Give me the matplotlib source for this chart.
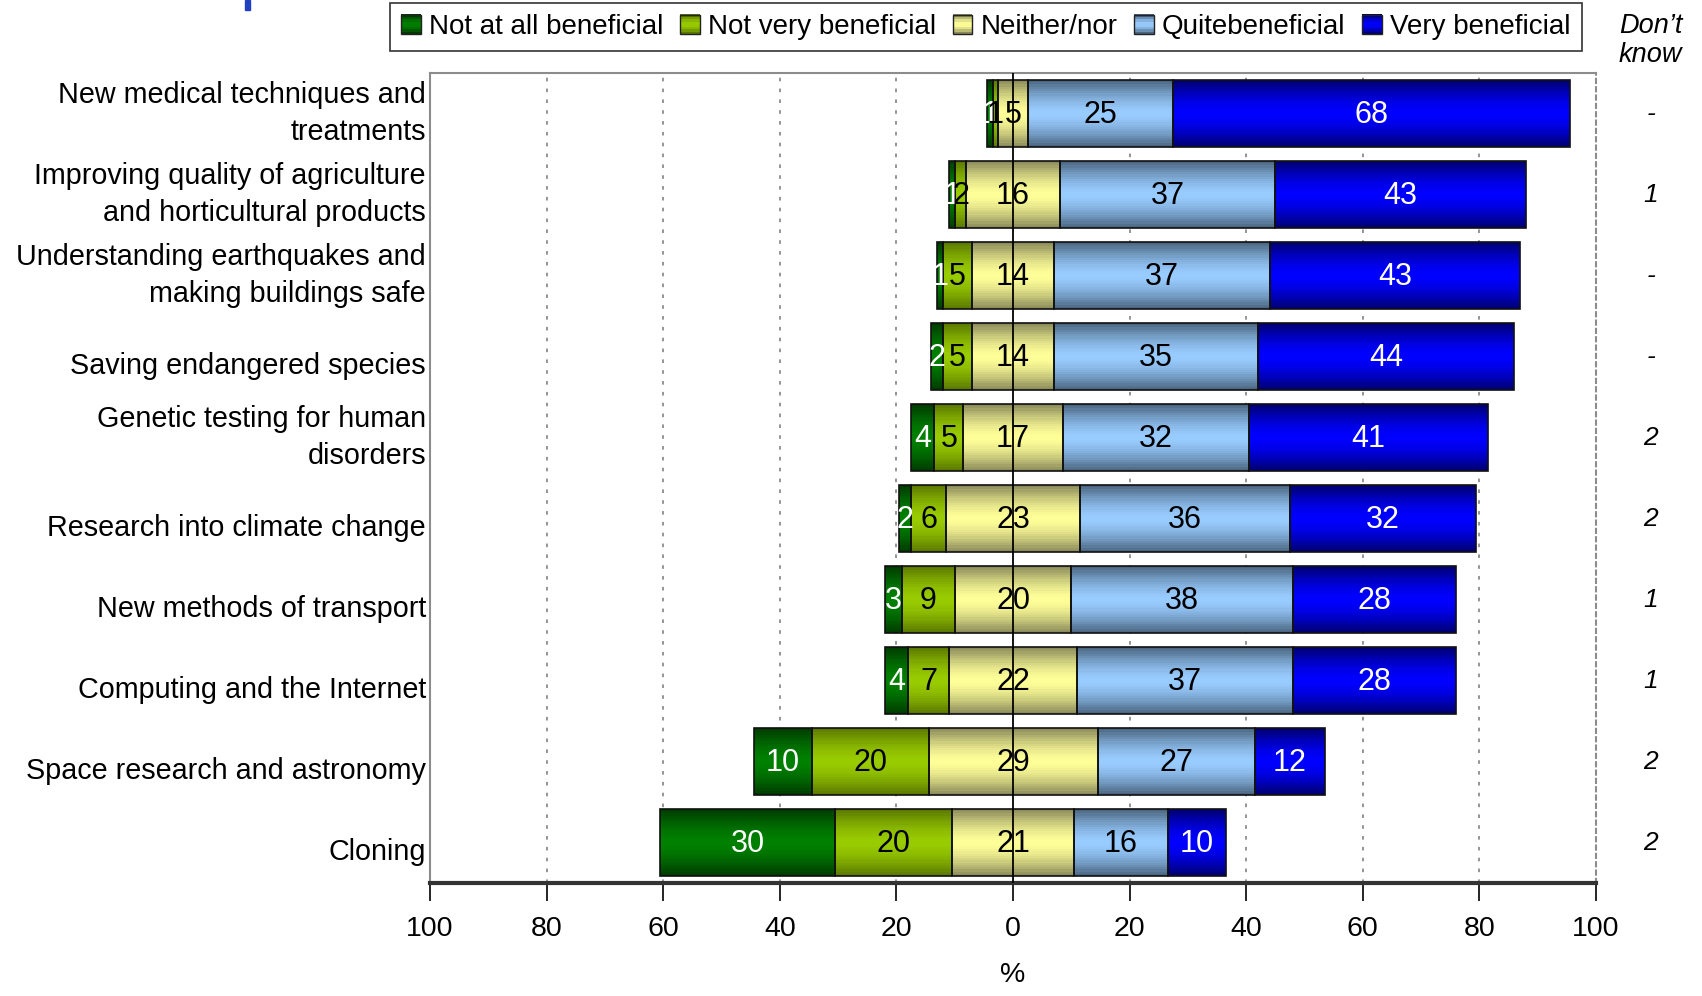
import numpy as np
import matplotlib
matplotlib.use("Agg")
import matplotlib.pyplot as plt
from matplotlib.patches import Rectangle
from matplotlib.legend_handler import HandlerBase
from matplotlib.colors import to_rgb
from matplotlib.transforms import ScaledTranslation

plt.rcParams['font.family'] = ['Liberation Sans', 'DejaVu Sans']

categories = [
    "New medical techniques and\ntreatments",
    "Improving quality of agriculture\nand horticultural products",
    "Understanding earthquakes and\nmaking buildings safe",
    "Saving endangered species",
    "Genetic testing for human\ndisorders",
    "Research into climate change",
    "New methods of transport",
    "Computing and the Internet",
    "Space research and astronomy",
    "Cloning",
]
not_at_all = [1, 1, 1, 2, 4, 2, 3, 4, 10, 30]
not_very = [1, 2, 5, 5, 5, 6, 9, 7, 20, 20]
neither = [5, 16, 14, 14, 17, 23, 20, 22, 29, 21]
quite = [25, 37, 37, 35, 32, 36, 38, 37, 27, 16]
very = [68, 43, 43, 44, 41, 32, 28, 28, 12, 10]
dont_know = ["-", "1", "-", "-", "2", "2", "1", "1", "2", "2"]

series_names = ["Not at all beneficial", "Not very beneficial", "Neither/nor",
                "Quitebeneficial", "Very beneficial"]
centers = ["#008000", "#99CC00", "#FFFF99", "#99CCFF", "#0000FF"]
edges = ["#003A00", "#5A7800", "#8A8A5A", "#4A6580", "#000070"]
text_colors = ["white", "black", "black", "black", "white"]
xticks = [-100, -80, -60, -40, -20, 0, 20, 40, 60, 80, 100]
xticklabels = ["100", "80", "60", "40", "20", "0", "20", "40", "60", "80", "100"]

NSTRIPE = 30


def stripe_colors(c_center, c_edge, n=NSTRIPE):
    cc = np.array(to_rgb(c_center))
    ce = np.array(to_rgb(c_edge))
    cols = []
    for i in range(n):
        t = abs(i - (n - 1) / 2) / ((n - 1) / 2)
        t = t ** 1.6
        cols.append(tuple(cc * (1 - t) + ce * t))
    return cols


fig = plt.figure(figsize=(17.02, 9.96), dpi=100)
ax = fig.add_axes([0.2527, 0.1134, 0.9377 - 0.2527, 0.9267 - 0.1134])

n = len(categories)
y = np.arange(n)
bar_h = 0.83
data = np.array([not_at_all, not_very, neither, quite, very], dtype=float)
lefts = -(data[0] + data[1] + data[2] / 2)

for i in range(n):
    left = lefts[i]
    for s in range(5):
        w = data[s, i]
        cols = stripe_colors(centers[s], edges[s])
        sh = bar_h / NSTRIPE
        for k in range(NSTRIPE):
            yc = y[i] - bar_h / 2 + sh * (k + 0.5)
            ax.barh(yc, w, height=sh * 1.02, left=left, color=cols[k],
                    edgecolor='none', linewidth=0, zorder=2)
        ax.barh(y[i], w, height=bar_h, left=left, fill=False,
                edgecolor='#111111', linewidth=1.2, zorder=3)
        ax.text(left + w / 2, y[i] + 0.02, f"{int(w)}", ha='center', va='center',
                fontsize=22, color=text_colors[s], zorder=5)
        left += w
    ax.text(1.047, y[i], dont_know[i], transform=ax.get_yaxis_transform(),
            ha='center', va='center', fontsize=19, style='italic', clip_on=False)

ax.text(1.047, 1.040, "Don\u2019t\nknow", transform=ax.transAxes, ha='center',
        va='center', fontsize=19.5, style='italic', linespacing=1.15, clip_on=False)

ax.set_xlim(-100, 100)
ax.set_ylim(n - 0.5, -0.5)
ax.set_yticks(y)
ax.set_yticklabels(categories, fontsize=20.7, linespacing=1.4)
ax.tick_params(axis='y', length=0, pad=3)
off = ScaledTranslation(0, -0.065, fig.dpi_scale_trans)
for lab in ax.get_yticklabels():
    if '\n' in lab.get_text():
        lab.set_va('center')
    else:
        lab.set_transform(lab.get_transform() + off)
ax.set_xticks(xticks)
ax.set_xticklabels(xticklabels, fontsize=20.5)
ax.tick_params(axis='x', length=13, width=1.2, color='black', pad=11, direction='out')
ax.set_xlabel("%", fontsize=20.5, labelpad=14)

for gx in [-80, -60, -40, -20, 20, 40, 60, 80]:
    ax.axvline(gx, color='#8c8c8c', linestyle=(0, (2, 4)), linewidth=1.3, zorder=1)
ax.axvline(0, color='black', linewidth=1.3, zorder=4)

ax.spines['left'].set_color('#8c8c8c')
ax.spines['left'].set_linewidth(1.5)
ax.spines['top'].set_color('#8c8c8c')
ax.spines['top'].set_linewidth(1.5)
ax.spines['right'].set_color('#8c8c8c')
ax.spines['right'].set_linestyle((0, (2, 2)))
ax.spines['right'].set_linewidth(1.5)
ax.spines['bottom'].set_color('#333333')
ax.spines['bottom'].set_linewidth(3)


class GradHandler(HandlerBase):
    def __init__(self, c_center, c_edge):
        super().__init__()
        self.cc = c_center
        self.ce = c_edge

    def create_artists(self, legend, orig_handle, xdescent, ydescent, width,
                       height, fontsize, trans):
        arts = []
        m = 8
        cols = stripe_colors(self.cc, self.ce, m)
        sh = height / m
        for k in range(m):
            r = Rectangle((-xdescent, -ydescent + k * sh), width, sh * 1.05,
                          facecolor=cols[k], edgecolor='none', transform=trans)
            arts.append(r)
        arts.append(Rectangle((-xdescent, -ydescent), width, height, fill=False,
                              edgecolor='#222222', linewidth=1.0, transform=trans))
        return arts


handles = [Rectangle((0, 0), 1, 1, label=nm) for nm in series_names]
hmap = {h: GradHandler(c, e) for h, c, e in zip(handles, centers, edges)}
leg = fig.legend(handles=handles, labels=series_names, handler_map=hmap,
                 loc='center', bbox_to_anchor=((385 + 1587) / 2 / 1702, 1 - 27 / 996),
                 ncol=5, fontsize=20, frameon=True, fancybox=False, edgecolor='black',
                 handlelength=0.7, handleheight=0.7, handletextpad=0.3,
                 columnspacing=0.6, borderpad=0.4, borderaxespad=0)
leg.get_frame().set_linewidth(1.2)

fig.patches.append(Rectangle((245 / 1702, 1 - 10 / 996), 5 / 1702, 10 / 996,
                             transform=fig.transFigure, color='#2040c0'))

fig.savefig("out.png", dpi=100)
